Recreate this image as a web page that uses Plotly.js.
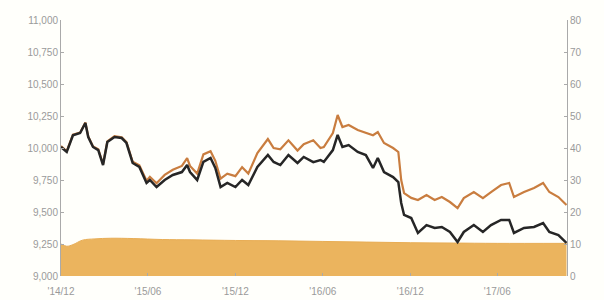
<!DOCTYPE html>
<html>
<head>
<meta charset="utf-8">
<script src="https://cdn.plot.ly/plotly-3.0.1.min.js"></script>
<style>html,body{margin:0;padding:0;background:#fffffb;}#chart{width:604px;height:300px;}</style>
</head>
<body>
<div id="chart"></div>
<script>
const lineDates = ['2014-12-01','2014-12-13','2014-12-26','2015-01-10','2015-01-21','2015-01-27','2015-02-06','2015-02-17','2015-02-27','2015-03-08','2015-03-23','2015-04-07','2015-04-17','2015-04-30','2015-05-14','2015-05-29','2015-06-05','2015-06-19','2015-07-06','2015-07-23','2015-08-11','2015-08-22','2015-08-28','2015-09-12','2015-09-25','2015-10-10','2015-10-20','2015-10-31','2015-11-14','2015-12-01','2015-12-15','2015-12-28','2016-01-16','2016-02-07','2016-02-19','2016-03-04','2016-03-21','2016-04-09','2016-04-22','2016-05-12','2016-05-27','2016-06-03','2016-06-22','2016-07-02','2016-07-12','2016-07-25','2016-08-13','2016-08-30','2016-09-14','2016-09-24','2016-10-07','2016-10-26','2016-11-06','2016-11-12','2016-11-18','2016-12-03','2016-12-17','2017-01-04','2017-01-21','2017-02-05','2017-02-22','2017-03-10','2017-03-23','2017-04-13','2017-05-02','2017-05-19','2017-06-09','2017-06-26','2017-07-06','2017-07-27','2017-08-17','2017-09-05','2017-09-18','2017-10-07','2017-10-24'];
const blackValues = [10008,9969,10100,10117,10195,10086,10008,9984,9867,10047,10086,10078,10039,9883,9852,9727,9750,9695,9750,9789,9812,9867,9812,9750,9891,9922,9844,9695,9727,9695,9750,9711,9852,9945,9891,9867,9945,9883,9930,9890,9906,9891,9984,10102,10008,10023,9969,9945,9844,9922,9812,9773,9734,9570,9477,9453,9336,9398,9375,9383,9344,9266,9344,9398,9344,9398,9438,9438,9336,9375,9383,9414,9344,9320,9258];
const orangeValues = [10015,9975,10105,10120,10200,10090,10012,9990,9875,10052,10092,10084,10046,9892,9865,9745,9775,9725,9790,9830,9860,9920,9860,9800,9950,9975,9900,9760,9800,9780,9850,9800,9960,10070,10000,9990,10060,9980,10030,10060,10000,10008,10117,10258,10164,10180,10141,10117,10100,10125,10039,10000,9969,9750,9648,9610,9594,9633,9594,9617,9578,9531,9609,9656,9609,9656,9711,9727,9617,9656,9688,9727,9656,9617,9555];
const areaDates = ['2014-12-01','2014-12-13','2014-12-26','2015-01-15','2015-02-10','2015-03-15','2015-05-01','2015-07-01','2015-09-01','2015-12-01','2016-03-01','2016-06-01','2016-09-01','2016-12-01','2017-03-01','2017-06-01','2017-10-24'];
const areaValues = [10,9.3,9.8,11.2,11.6,11.8,11.7,11.4,11.3,11.1,11.0,10.8,10.6,10.4,10.3,10.2,10.2];
const xTickVals = ['2014-12-01','2015-06-01','2015-12-01','2016-06-01','2016-12-01','2017-06-01'];
const xTickText = ["'14/12","'15/06","'15/12","'16/06","'16/12","'17/06"];

const tickFont = {family:'Liberation Sans, Arial, sans-serif', size:10, color:'#9a9a9a'};
const traces = [
  {x:areaDates, y:areaValues, type:'scatter', mode:'lines', fill:'tozeroy', fillcolor:'#ebb45e', line:{color:'#e8ad55', width:1, shape:'spline'}, yaxis:'y', hoverinfo:'skip'},
  {x:lineDates, y:orangeValues, type:'scatter', mode:'lines', line:{color:'#c97d3f', width:2.2}, yaxis:'y2'},
  {x:lineDates, y:blackValues, type:'scatter', mode:'lines', line:{color:'#262626', width:2.5}, yaxis:'y2'}
];
const layout = {
  width:604, height:300,
  margin:{l:61, r:37, t:20, b:24},
  paper_bgcolor:'#fffffb', plot_bgcolor:'#fffffb',
  showlegend:false,
  xaxis:{type:'date', range:['2014-12-01','2017-10-25'], tickvals:xTickVals, ticktext:xTickText, ticks:'inside', ticklen:3, tickcolor:'#aaa', ticklabelstandoff:8, showgrid:false, zeroline:false, showline:false, tickfont:tickFont},
  yaxis:{range:[0,80], side:'right', dtick:10, ticks:'inside', ticklen:3, tickcolor:'#aaa', showgrid:false, zeroline:false, showline:true, linecolor:'#aaa', linewidth:1, tickfont:tickFont},
  yaxis2:{range:[9000,11000], side:'left', overlaying:'y', dtick:250, tickformat:',d', ticks:'inside', ticklen:3, tickcolor:'#aaa', showgrid:false, zeroline:false, showline:true, linecolor:'#aaa', linewidth:1, tickfont:tickFont}
};
Plotly.newPlot('chart', traces, layout, {staticPlot:true, displayModeBar:false});
</script>
</body>
</html>
